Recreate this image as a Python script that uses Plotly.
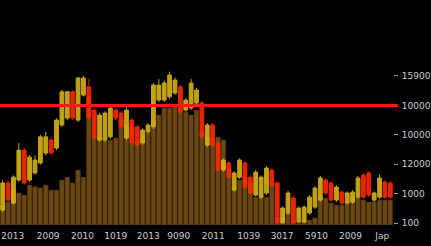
import plotly.graph_objects as go

# ---- data (price levels in axis units, volume in thousands) ----
opens = [0.44, 1.36, 0.68, 1.46, 2.48, 1.46, 1.70, 2.04, 2.38, 2.82, 2.55, 3.33, 3.57, 4.46, 3.50, 4.35, 4.63,
         3.84, 2.82, 2.82, 2.93, 3.84, 3.74, 2.89, 3.50, 3.27, 2.72, 3.10, 3.27, 4.18, 4.18, 4.29, 4.42, 4.63,
         3.84, 3.91, 4.08, 4.08, 2.65, 3.33, 2.72, 1.80, 2.04, 1.12, 1.56, 2.04, 1.56, 0.95, 0.88, 1.02, 1.80,
         1.36, 0.00, 0.34, 0.85, 0.03, 0.03, 0.34, 0.54, 0.78, 1.46, 1.36, 0.78, 1.05, 0.68, 0.71, 0.88, 1.63,
         1.70, 0.78, 0.88, 1.39, 1.36]
highs = [1.46, 1.46, 1.62, 2.72, 2.55, 2.31, 2.30, 3.00, 3.10, 2.90, 3.56, 4.52, 4.50, 4.52, 4.97, 5.00, 4.90,
         3.90, 3.74, 3.80, 3.98, 3.90, 3.80, 3.95, 3.56, 3.33, 3.22, 3.40, 4.76, 4.90, 4.85, 5.15, 4.95, 4.70,
         4.25, 4.90, 4.60, 4.15, 3.40, 3.40, 2.80, 2.20, 2.10, 1.76, 2.20, 2.10, 1.62, 1.80, 1.62, 1.93, 1.86,
         1.42, 0.56, 1.10, 0.92, 0.56, 0.60, 0.94, 1.25, 1.60, 1.52, 1.42, 1.28, 1.12, 1.08, 1.12, 1.60, 1.70,
         1.76, 1.08, 1.65, 1.45, 1.42]
lows = [0.37, 0.70, 0.62, 1.40, 1.30, 1.40, 1.65, 1.98, 2.30, 2.32, 2.48, 3.27, 3.50, 3.50, 3.44, 4.30, 3.50,
        2.82, 2.76, 2.76, 2.86, 3.50, 3.20, 2.82, 2.66, 2.58, 2.66, 3.05, 3.20, 4.12, 4.12, 4.22, 4.36, 3.70,
        3.78, 3.85, 4.00, 2.86, 2.58, 2.58, 1.74, 1.74, 1.50, 1.06, 1.50, 1.16, 0.96, 0.90, 0.82, 0.96, 1.22,
        0.00, 0.00, 0.28, 0.00, 0.00, 0.00, 0.28, 0.48, 0.72, 0.96, 0.72, 0.72, 0.62, 0.62, 0.65, 0.82, 0.82,
        0.88, 0.72, 0.82, 0.82, 0.82]
closes = [1.36, 0.78, 1.56, 2.48, 1.36, 2.24, 2.14, 2.93, 2.93, 2.38, 3.50, 4.46, 4.46, 3.57, 4.93, 4.93, 3.57,
          2.89, 3.67, 3.74, 3.91, 3.57, 3.27, 3.84, 2.72, 2.65, 3.16, 3.33, 4.69, 4.69, 4.76, 5.03, 4.86, 3.78,
          4.18, 4.76, 4.52, 2.93, 3.33, 2.65, 1.80, 2.14, 1.56, 1.70, 2.14, 1.22, 1.02, 1.73, 1.56, 1.87, 1.29,
          0.00, 0.51, 1.02, 0.00, 0.51, 0.54, 0.88, 1.19, 1.53, 1.02, 0.78, 1.22, 0.68, 1.02, 1.05, 1.53, 0.88,
          0.95, 1.02, 1.53, 0.88, 0.88]
volume = [650, 780, 1190, 1090, 1020, 1360, 1300, 1260, 1360, 1190, 1190, 1530, 1630, 1430, 1870, 1630, 4350,
          2990, 2990, 2890, 2890, 2960, 3570, 3400, 3330, 2890, 3060, 3160, 3570, 3740, 3980, 3980, 4080, 3980,
          3840, 3740, 3910, 3130, 2990, 2990, 2990, 2890, 1870, 1290, 1530, 1630, 1430, 950, 950, 950, 1430,
          270, 270, 410, 170, 70, 170, 170, 240, 950, 920, 750, 680, 680, 780, 950, 920, 850,
          780, 780, 850, 850, 850]
x_idx = list(range(len(opens)))

y_tick_vals = [0, 1, 2, 3, 4, 5]
y_tick_text = ["100", "1000", "12000", "10000", "10000", "15900"]
x_tick_vals = [1.87, 8.44, 14.83, 21.0, 27.05, 32.7, 39.1, 45.7, 51.9, 58.3, 64.6, 70.5]
x_tick_text = ["2013", "2009", "2010", "1019", "2013", "9090", "2011", "1039", "3017", "5910", "2009", "Jap"]
resistance_level = 4

fig = go.Figure()
# volume on the base (hidden) axis so it renders underneath the candles
fig.add_trace(go.Bar(
    x=x_idx, y=volume, yaxis="y",
    marker=dict(color="#6a4714", line=dict(color="#3e2a0a", width=0.6)),
    hoverinfo="skip", showlegend=False,
))
fig.add_trace(go.Candlestick(
    x=x_idx, open=opens, high=highs, low=lows, close=closes, yaxis="y2",
    increasing=dict(line=dict(color="#d8b418", width=1), fillcolor="#d8b418"),
    decreasing=dict(line=dict(color="#ff2a00", width=1), fillcolor="#ff2a00"),
    whiskerwidth=0, opacity=0.9, showlegend=False,
))
fig.add_shape(type="line", xref="paper", yref="y2", x0=0, x1=1.012,
              y0=resistance_level, y1=resistance_level,
              line=dict(color="#ff1a1a", width=3))

fig.update_layout(
    width=431, height=246,
    margin=dict(l=0, r=31, t=55, b=21),
    paper_bgcolor="black", plot_bgcolor="black",
    bargap=0.12, boxgap=0.0,
    showlegend=False,
    font=dict(family="DejaVu Sans", color="#cccccc", size=9),
    xaxis=dict(range=[-0.5, len(opens) - 0.5], showgrid=False, zeroline=False,
               rangeslider=dict(visible=False), tickvals=x_tick_vals, ticktext=x_tick_text,
               ticks="", showline=False, ticklabelstandoff=4,
               tickfont=dict(size=9, color="#cccccc")),
    yaxis=dict(range=[0, 5780], visible=False, showgrid=False, zeroline=False),
    yaxis2=dict(overlaying="y", side="right", range=[-0.068, 5.714], showgrid=False, zeroline=False,
                tickvals=y_tick_vals, ticktext=y_tick_text, ticks="outside", ticklen=4,
                tickcolor="#999999", showline=False, ticklabelstandoff=2,
                tickfont=dict(size=9, color="#cccccc")),
)

fig.write_html("out.html")
